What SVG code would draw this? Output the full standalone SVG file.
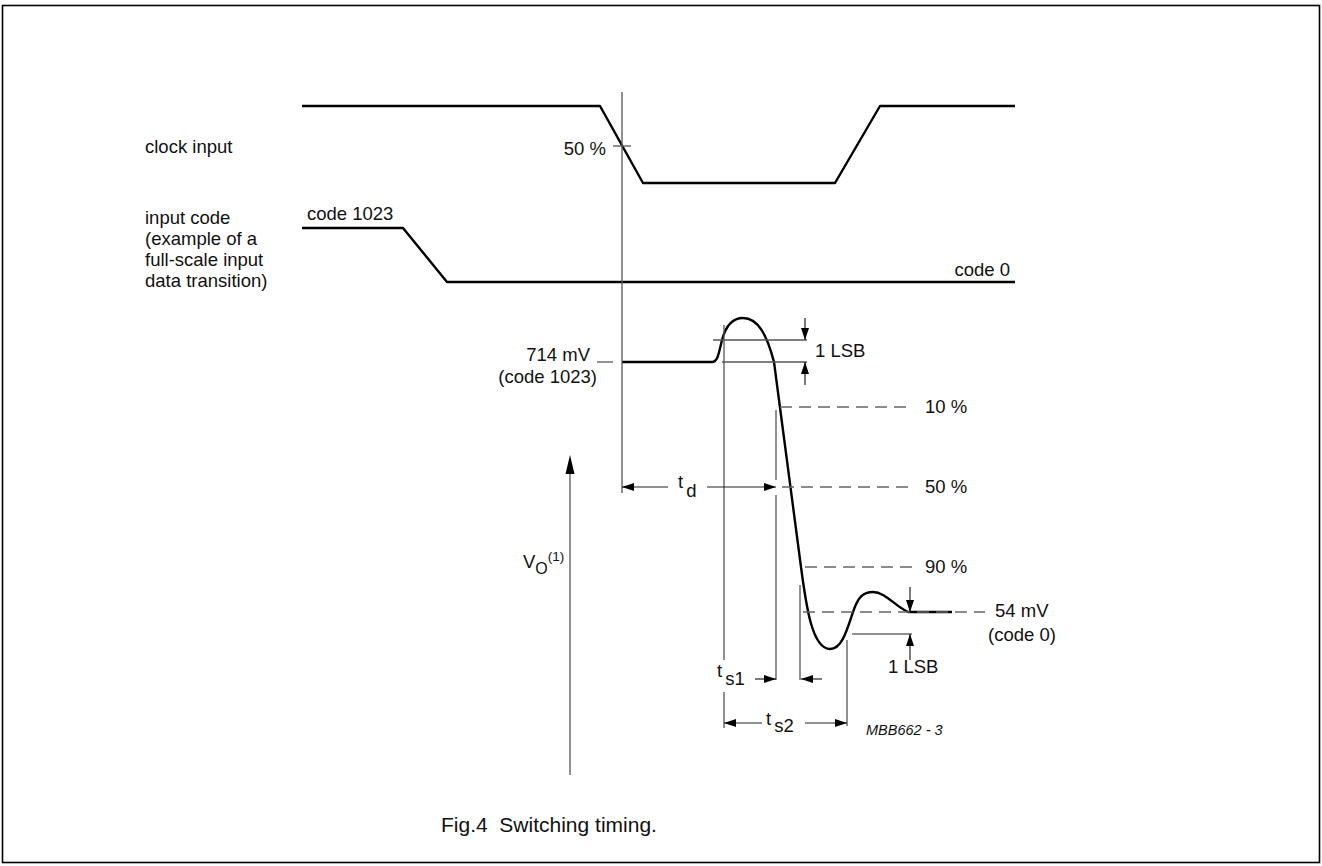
<svg xmlns="http://www.w3.org/2000/svg" width="1322" height="866" viewBox="0 0 1322 866">
<defs>
<marker id="ah" viewBox="0 0 12 8" refX="12" refY="4" markerWidth="12" markerHeight="8" markerUnits="userSpaceOnUse" orient="auto">
<path d="M0,0 L12,4 L0,8 Z" fill="#000"/>
</marker>
</defs>
<style>
text{font-family:"Liberation Sans",Arial,sans-serif;font-size:18.5px;fill:#111}
text.code{font-size:14.5px;font-style:italic}
text.cap{font-size:21px}
.wave{fill:none;stroke:#000;stroke-width:2.4;stroke-linejoin:round}
.thin{fill:none;stroke:#555;stroke-width:1.3}
.dim{fill:none;stroke:#222;stroke-width:1.2}
.dash{fill:none;stroke:#666;stroke-width:1.4;stroke-dasharray:12 7}
.arr{fill:none;stroke:#222;stroke-width:1.2;marker-end:url(#ah)}
</style>
<rect x="2.5" y="5.5" width="1317" height="857" fill="#fff" stroke="#000" stroke-width="1.6"/>

<g id="clock">
<polyline class="wave" points="302,106 600,106 643,183 835,183 880,106 1015,106"/>
<text x="145" y="153">clock input</text>
<text x="606" y="155" text-anchor="end">50 %</text>
</g>

<g id="inputcode">
<polyline class="wave" points="302,228 403,228 447,282 1015,282"/>
<text x="145" y="224">input code</text>
<text x="145" y="245">(example of a</text>
<text x="145" y="266">full-scale input</text>
<text x="145" y="287">data transition)</text>
<text x="307" y="220">code 1023</text>
<text x="1010" y="276" text-anchor="end">code 0</text>
</g>

<g id="output">
<path class="wave" d="M622,362 L712,362 C718,362 719,352 722,340 C726,325 733,318 743,318 C758,318 767,335 774,362 L801,567 C806,605 812,649 830,649 C842,649 847,630 853,612 C858,597 863,592 873,592 C885,592 895,606 908,612 L952,612"/>
<text x="590" y="361" text-anchor="end">714 mV</text>
<text x="597" y="383" text-anchor="end">(code 1023)</text>
<text x="995" y="617">54 mV</text>
<text x="988" y="641">(code 0)</text>
<text x="925" y="413">10 %</text>
<text x="925" y="493">50 %</text>
<text x="925" y="573">90 %</text>
<text x="815" y="357">1 LSB</text>
<text x="888" y="673">1 LSB</text>
</g>

<g id="vo">
<text x="523" y="568">V<tspan font-size="16" dy="6">O</tspan><tspan font-size="13.5" dy="-13">(1)</tspan></text>
</g>

<g id="labels">
<text x="678" y="488">t<tspan dy="9" dx="3">d</tspan></text>
<text x="717" y="677">t<tspan dy="8" dx="3">s1</tspan></text>
<text x="766" y="725">t<tspan dy="7" dx="3">s2</tspan></text>
<text class="code" x="866" y="735">MBB662 - 3</text>
<text class="cap" x="441" y="832" xml:space="preserve">Fig.4  Switching timing.</text>
</g>

<g id="connectors">
<line class="thin" x1="622" y1="92" x2="622" y2="493"/>
<line class="thin" x1="613" y1="146" x2="631" y2="146"/>
<line class="thin" x1="597" y1="362" x2="613" y2="362"/>
<line class="thin" x1="713" y1="340" x2="807" y2="340"/>
<line class="thin" x1="722" y1="362" x2="807" y2="362"/>
<line class="thin" x1="724" y1="325" x2="724" y2="660"/>
<line class="thin" x1="724" y1="692" x2="724" y2="728"/>
<line class="thin" x1="776" y1="410" x2="776" y2="480"/>
<line class="thin" x1="776" y1="495" x2="776" y2="680"/>
<line class="thin" x1="800" y1="585" x2="800" y2="680"/>
<line class="thin" x1="847" y1="640" x2="847" y2="726"/>
<line class="dim" x1="852" y1="634" x2="912" y2="634"/>
<line class="thin" x1="570" y1="775" x2="570" y2="470"/>
<path d="M570,455 L574.5,474 L565.5,474 Z" fill="#000"/>
<line class="dash" x1="780" y1="407" x2="913" y2="407"/>
<line class="dash" x1="782" y1="487" x2="913" y2="487"/>
<line class="dash" x1="805" y1="567" x2="913" y2="567"/>
<line class="dash" x1="803" y1="612" x2="985" y2="612"/>
<line class="arr" x1="805" y1="318" x2="805" y2="340"/>
<line class="arr" x1="805" y1="385" x2="805" y2="362"/>
<line class="arr" x1="910" y1="587" x2="910" y2="612"/>
<line class="arr" x1="910" y1="660" x2="910" y2="634"/>
<line class="arr" x1="668" y1="487" x2="622" y2="487"/>
<line class="arr" x1="707" y1="487" x2="776" y2="487"/>
<line class="arr" x1="755" y1="679" x2="776" y2="679"/>
<line class="arr" x1="822" y1="679" x2="801" y2="679"/>
<line class="arr" x1="762" y1="723" x2="724" y2="723"/>
<line class="arr" x1="805" y1="723" x2="847" y2="723"/>
</g>
</svg>
